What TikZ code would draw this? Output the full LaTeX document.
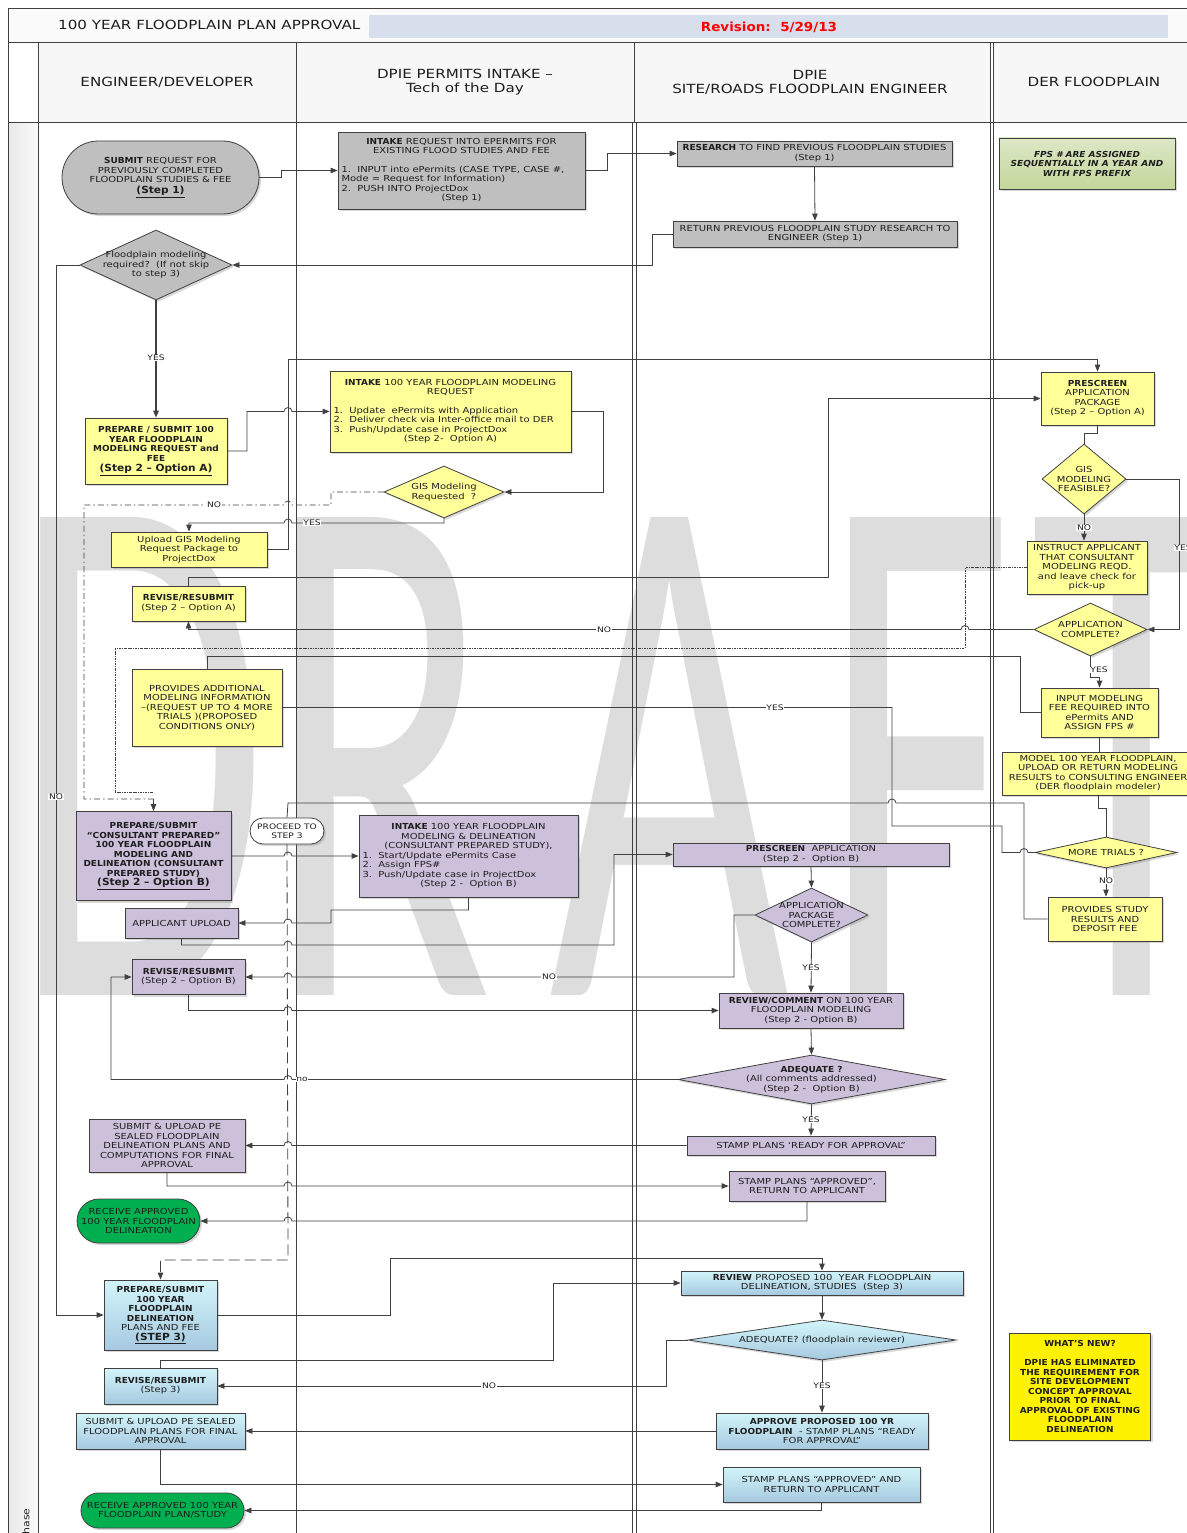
\documentclass[tikz,border=0pt]{standalone}
\usepackage{fontspec}
\setmainfont{DejaVu Sans}[FakeStretch=1.2, BoldFeatures={FakeStretch=1.08}, BoldItalicFeatures={FakeStretch=1.08}]
\newfontfamily\wmfont{Carlito}[FakeStretch=0.557]
\usetikzlibrary{shapes.geometric,shapes.misc,arrows.meta,shadows}
\definecolor{lc}{HTML}{404040}
\definecolor{gbox}{HTML}{BFBFBF}
\definecolor{ybox}{HTML}{FFFF99}
\definecolor{pbox}{HTML}{CCC0DA}
\definecolor{btop}{HTML}{D2F5FA}
\definecolor{bbot}{HTML}{A7C9E0}
\definecolor{grn}{HTML}{00B050}
\definecolor{ntop}{HTML}{DCE7C6}
\definecolor{nbot}{HTML}{C4D79B}
\definecolor{hdrblue}{HTML}{D6DFEB}
\definecolor{wmc}{HTML}{DDDDDD}
\definecolor{tx}{HTML}{1E1E1E}
\newcommand\fbx{\fontsize{8.3}{9.5}\selectfont}
\newcommand\flb{\fontsize{7.6}{8}\selectfont}
\newcommand\fhd{\fontsize{12.6}{14}\selectfont}
\newcommand\fst{\fontsize{9.8}{11}\selectfont}
\begin{document}
\begin{tikzpicture}[x=1pt,y=-1pt,
  box/.style={draw=lc, line width=0.8pt, align=center, inner sep=1pt, font=\fbx, text=tx,
    drop shadow={shadow xshift=2pt, shadow yshift=-2pt, opacity=0.3}},
  gb/.style={box, fill=gbox},
  yb/.style={box, fill=ybox},
  pb/.style={box, fill=pbox},
  bb/.style={box, top color=btop, bottom color=bbot},
  stad/.style={box, rounded rectangle},
  dia/.style={draw=lc, line width=0.8pt, shape=diamond, inner sep=0pt,
    drop shadow={shadow xshift=2pt, shadow yshift=-2pt, opacity=0.3}},
  dtext/.style={align=center, font=\fbx, text=tx, inner sep=0pt},
  conn/.style={draw=lc, line width=0.8pt},
  arr/.style={conn, -{Triangle[length=7pt,width=5.5pt]}},
  lbl/.style={font=\flb, text=tx, fill=white, inner sep=0.6pt},
  hdr/.style={font=\fhd, text=tx, align=center},
  lane/.style={draw=lc, line width=0.8pt},
  dashdot/.style={dash pattern=on 6pt off 3pt on 1.5pt off 3pt},
  dotdash/.style={dash pattern=on 2.5pt off 1pt on 0.8pt off 1pt},
  longdash/.style={dash pattern=on 11pt off 5pt}]
\useasboundingbox (0,0) rectangle (1186,1533);
\fill[white] (0,0) rectangle (1186,1533);
% ---------- header ----------
\fill[gray!4] (8,8) rectangle (1190,42);
\fill[hdrblue] (369,15) rectangle (1168,38);
\node[font=\fhd, text=tx, anchor=west, inner sep=0pt] (title) at (58,25) {100 YEAR FLOODPLAIN PLAN APPROVAL};
\node[font=\fontsize{12.5}{14}\selectfont\bfseries, text=red] (rev) at (769,27) {Revision:\ \ 5/29/13};
\foreach \a/\b in {38/296,296/634,634/990,993/1190} \fill[gray!6] (\a,42) rectangle (\b,122);
\shade[left color=gray!18, right color=gray!4] (8.5,122.5) rectangle (37.5,1533);
% ---------- watermark ----------
\begin{scope}[every node/.style={font=\wmfont\fontsize{745}{745}\selectfont, text=wmc, inner sep=0pt, anchor=base west}]
\node (wD) at (12,995) {D};
\node (wR) at (267,995) {R};
\node (wA) at (549,995) {A};
\node (wF) at (822,995) {F};
\node (wT) at (1030,995) {T};
\end{scope}
% ---------- frame / lanes ----------
\draw[lane] (8,8) -- (1190,8);
\draw[lane] (8,42) -- (1190,42);
\draw[lane] (8,122) -- (1190,122);
\draw[lane, line width=1pt] (8,8) -- (8,1533);
\draw[lane] (38,42) -- (38,1533);
\draw[lane] (296,42) -- (296,1533);
\draw[lane] (634,42) -- (634,122);
\draw[lane] (632,122) -- (632,1533);
\draw[lane] (636,122) -- (636,1533);
\draw[lane] (990,42) -- (990,1533);
\draw[lane] (993,42) -- (993,1533);
\node[hdr] (h1) at (167,82) {ENGINEER/DEVELOPER};
\node[hdr] (h2) at (465,82) {DPIE PERMITS INTAKE –\\Tech of the Day};
\node[hdr] (h3) at (810,82) {DPIE\\SITE/ROADS FLOODPLAIN ENGINEER};
\node[hdr] (h4) at (1094,82) {DER FLOODPLAIN};
\node[rotate=90, anchor=west, font=\fontsize{9}{9}\selectfont, text=tx, inner sep=0pt] (phase) at (26,1541) {Phase};
% ---------- nodes ----------
\node[stad, fill=gbox, minimum width=199pt, minimum height=73pt] (submit) at (160.5,177.5)
  {\textbf{SUBMIT} REQUEST FOR\\PREVIOUSLY COMPLETED\\FLOODPLAIN STUDIES \& FEE\\[1pt]{\fst\bfseries\underline{(Step 1)}}};
\node[gb, minimum width=247pt, minimum height=77pt] (intake1) at (461.5,170.5)
  {\textbf{INTAKE} REQUEST INTO EPERMITS FOR\\EXISTING FLOOD STUDIES AND FEE\\[9pt]
   \makebox[240pt][l]{1.\ \ INPUT into ePermits (CASE TYPE, CASE \#,}\\
   \makebox[240pt][l]{Mode = Request for Information)}\\
   \makebox[240pt][l]{2.\ \ PUSH INTO ProjectDox}\\(Step 1)};
\node[gb, minimum width=275pt, minimum height=25pt] (research) at (814.5,153.5)
  {\textbf{RESEARCH} TO FIND PREVIOUS FLOODPLAIN STUDIES\\(Step 1)};
\node[gb, minimum width=284pt, minimum height=26pt] (return) at (815,234)
  {RETURN PREVIOUS FLOODPLAIN STUDY RESEARCH TO\\ENGINEER (Step 1)};
\node[box, top color=ntop, bottom color=nbot, font=\fbx\bfseries\itshape, minimum width=176pt, minimum height=51pt] (fps) at (1087,163.5)
  {FPS \# ARE ASSIGNED\\SEQUENTIALLY IN A YEAR AND\\WITH FPS PREFIX};
\node[dia, fill=gbox, minimum width=152pt, minimum height=70pt] (dia1) at (156,265) {};
\node[dtext] (dia1t) at (dia1.center) {Floodplain modeling\\required?\ \ (If not skip\\to step 3)};
\node[yb, font=\fbx\bfseries, minimum width=142pt, minimum height=66pt] (prepA) at (156,451)
  {PREPARE / SUBMIT 100\\YEAR FLOODPLAIN\\MODELING REQUEST and\\FEE\\[1pt]{\fst\underline{(Step 2 – Option A)}}};
\node[yb, minimum width=241pt, minimum height=81pt] (intakeA) at (450.5,411.5)
  {\textbf{INTAKE} 100 YEAR FLOODPLAIN MODELING\\REQUEST\\[9pt]
   \makebox[234pt][l]{1.\ \ Update\ \ ePermits with Application}\\
   \makebox[234pt][l]{2.\ \ Deliver check via Inter-office mail to DER}\\
   \makebox[234pt][l]{3.\ \ Push/Update case in ProjectDox}\\(Step 2-\ \ Option A)};
\node[dia, fill=ybox, minimum width=120pt, minimum height=52pt] (gisReq) at (444,492) {};
\node[dtext] (gisReqt) at (gisReq.center) {GIS Modeling\\Requested\ \ ?};
\node[yb, minimum width=156pt, minimum height=35pt] (upload) at (189,549.5)
  {Upload GIS Modeling\\Request Package to\\ProjectDox};
\node[yb, minimum width=113pt, minimum height=53pt] (prescreenA) at (1097.5,398.5)
  {\textbf{PRESCREEN}\\APPLICATION\\PACKAGE\\(Step 2 – Option A)};
\node[dia, fill=ybox, minimum width=84pt, minimum height=70pt] (gisFeas) at (1084,479) {};
\node[dtext] (gisFeast) at (gisFeas.center) {GIS\\MODELING\\FEASIBLE?};
\node[yb, minimum width=120pt, minimum height=53pt] (instruct) at (1087,567.5)
  {INSTRUCT APPLICANT\\THAT CONSULTANT\\MODELING REQD.\\and leave check for\\pick-up};
\node[dia, fill=ybox, minimum width=113pt, minimum height=53pt] (appComplete) at (1090.5,629.5) {};
\node[dtext] (appCompletet) at (appComplete.center) {APPLICATION\\COMPLETE?};
\node[yb, minimum width=113pt, minimum height=35pt] (revA) at (188.5,603.5)
  {\textbf{REVISE/RESUBMIT}\\(Step 2 – Option A)};
\node[yb, minimum width=150pt, minimum height=77pt] (provides) at (207,707.5)
  {PROVIDES ADDITIONAL\\MODELING INFORMATION\\–(REQUEST UP TO 4 MORE\\TRIALS )(PROPOSED\\CONDITIONS ONLY)};
\node[yb, minimum width=117pt, minimum height=49pt] (inputFee) at (1099.5,712.5)
  {INPUT MODELING\\FEE REQUIRED INTO\\ePermits AND\\ASSIGN FPS \#};
\node[yb, minimum width=192pt, minimum height=43pt] (model) at (1098,773.5)
  {MODEL 100 YEAR FLOODPLAIN,\\UPLOAD OR RETURN MODELING\\RESULTS to CONSULTING ENGINEER\\(DER floodplain modeler)};
\node[dia, fill=ybox, minimum width=142pt, minimum height=31pt] (moreTrials) at (1106,852.5) {};
\node[dtext] (moreTrialst) at (moreTrials.center) {MORE TRIALS ?};
\node[yb, minimum width=114pt, minimum height=44pt] (provStudy) at (1105,919)
  {PROVIDES STUDY\\RESULTS AND\\DEPOSIT FEE};
\node[pb, font=\fbx\bfseries, minimum width=155pt, minimum height=89pt] (prepB) at (153.5,856)
  {PREPARE/SUBMIT\\“CONSULTANT PREPARED”\\100 YEAR FLOODPLAIN\\MODELING AND\\DELINEATION (CONSULTANT\\PREPARED STUDY)\\{\fst\underline{(Step 2 – Option B)}}};
\node[box, rounded rectangle, fill=white, font=\fontsize{7.6}{8.6}\selectfont, minimum width=76pt, minimum height=26pt] (proceed) at (287,831)
  {PROCEED TO\\STEP 3};
\node[pb, minimum width=219pt, minimum height=82pt] (intakeB) at (468.5,856)
  {\textbf{INTAKE} 100 YEAR FLOODPLAIN\\MODELING \& DELINEATION\\(CONSULTANT PREPARED STUDY),\\
   \makebox[212pt][l]{1.\ \ Start/Update ePermits Case}\\
   \makebox[212pt][l]{2.\ \ Assign FPS\#}\\
   \makebox[212pt][l]{3.\ \ Push/Update case in ProjectDox}\\(Step 2 -\ \ Option B)};
\node[pb, minimum width=113pt, minimum height=30pt] (appUpload) at (181.5,923) {APPLICANT UPLOAD};
\node[pb, minimum width=276pt, minimum height=23pt] (prescreenB) at (811,854.5)
  {\textbf{PRESCREEN}\ \ APPLICATION\\(Step 2 -\ \ Option B)};
\node[dia, fill=pbox, minimum width=113pt, minimum height=54pt] (appPkg) at (811.5,915) {};
\node[dtext] (appPkgt) at (appPkg.center) {APPLICATION\\PACKAGE\\COMPLETE?};
\node[pb, minimum width=113pt, minimum height=35pt] (revB) at (188.5,977)
  {\textbf{REVISE/RESUBMIT}\\(Step 2 – Option B)};
\node[pb, minimum width=184pt, minimum height=35pt] (review) at (811,1010.5)
  {\textbf{REVIEW/COMMENT} ON 100 YEAR\\FLOODPLAIN MODELING\\(Step 2 - Option B)};
\node[dia, fill=pbox, minimum width=267pt, minimum height=49pt] (adequate) at (811.5,1079.5) {};
\node[dtext] (adequatet) at (adequate.center) {\textbf{ADEQUATE ?}\\(All comments addressed)\\(Step 2 -\ \ Option B)};
\node[pb, minimum width=248pt, minimum height=19pt] (stampReady) at (811,1145.5) {STAMP PLANS ‘READY FOR APPROVAL”};
\node[pb, minimum width=156pt, minimum height=53pt] (submitPE) at (167,1145.5)
  {SUBMIT \& UPLOAD PE\\SEALED FLOODPLAIN\\DELINEATION PLANS AND\\COMPUTATIONS FOR FINAL\\APPROVAL};
\node[pb, minimum width=156pt, minimum height=30pt] (stampApproved) at (807,1186)
  {STAMP PLANS “APPROVED”,\\RETURN TO APPLICANT};
\node[stad, fill=grn, minimum width=125pt, minimum height=44pt] (receive1) at (138.5,1221)
  {RECEIVE APPROVED\\100 YEAR FLOODPLAIN\\DELINEATION};
\node[bb, minimum width=113pt, minimum height=70pt] (step3) at (160.5,1315)
  {\textbf{PREPARE/SUBMIT}\\\textbf{100 YEAR}\\\textbf{FLOODPLAIN}\\\textbf{DELINEATION}\\PLANS AND FEE\\{\fst\bfseries\underline{(STEP 3)}}};
\node[bb, minimum width=282pt, minimum height=24pt] (reviewP) at (822,1283)
  {\textbf{REVIEW} PROPOSED 100\ \ YEAR FLOODPLAIN\\DELINEATION, STUDIES\ \ (Step 3)};
\node[dia, top color=btop, bottom color=bbot, minimum width=268pt, minimum height=40pt] (adequateP) at (822,1340) {};
\node[dtext] (adequatePt) at (adequateP.center) {ADEQUATE? (floodplain reviewer)};
\node[bb, minimum width=113pt, minimum height=36pt] (revS3) at (160.5,1386)
  {\textbf{REVISE/RESUBMIT}\\(Step 3)};
\node[bb, minimum width=212pt, minimum height=36pt] (approveP) at (822,1431)
  {\textbf{APPROVE PROPOSED 100 YR}\\\textbf{FLOODPLAIN}\ \ - STAMP PLANS “READY\\FOR APPROVAL”};
\node[bb, minimum width=169pt, minimum height=36pt] (submitS3) at (160.5,1431)
  {SUBMIT \& UPLOAD PE SEALED\\FLOODPLAIN PLANS FOR FINAL\\APPROVAL};
\node[bb, minimum width=197pt, minimum height=35pt] (stampP) at (821.5,1484.5)
  {STAMP PLANS “APPROVED” AND\\RETURN TO APPLICANT};
\node[stad, fill=grn, minimum width=165pt, minimum height=35pt] (receive2) at (162.5,1510.5)
  {RECEIVE APPROVED 100 YEAR\\FLOODPLAIN PLAN/STUDY};
\node[box, fill=yellow, font=\fbx\bfseries, minimum width=141pt, minimum height=107pt] (whatsNew) at (1080,1386.5)
  {WHAT'S NEW?\\[9.5pt]DPIE HAS ELIMINATED\\THE REQUIREMENT FOR\\SITE DEVELOPMENT\\CONCEPT APPROVAL\\PRIOR TO FINAL\\APPROVAL OF EXISTING\\FLOODPLAIN\\DELINEATION};
% ---------- connectors ----------
\draw[arr] (submit.east) -- (281,177.5) -- (281,170.5) -- (intake1.west);
\draw[arr] (intake1.east) -- (607,170.5) |- (research.west);
\draw[arr] (research.south) -- (return.north);
\draw[arr] (return.west) -| (652,265) -- (dia1.east);
\draw[arr] (dia1.west) -- (56,265) |- (step3.west);
\draw[arr, line width=1.6pt] (dia1.south) -- (prepA.north);
\draw[arr] (prepA.east) -- (247,451) -- (247,411.5) -- (284,411.5) arc[start angle=180,end angle=360,radius=4] -- (intakeA.west);
\draw[arr] (intakeA.east) -- (603,411.5) |- (gisReq.east);
\draw[conn, dashdot] (gisReq.west) -- (331,492) -- (331,505) -- (292,505) arc[start angle=0,end angle=-180,radius=4] -- (84,505) -- (84,799) -- (153.5,799);
\draw[conn, dotdash] (instruct.west) -- (965,567.5) -- (965,648) -- (115,648) -- (115,792) -- (153.5,792);
\draw[arr] (153.5,799) -- (prepB.north);
\draw[arr] (gisReq.south) -- (444,523) -- (292,523) arc[start angle=0,end angle=-180,radius=4] -- (189,523) -- (upload.north);
\draw[arr] (upload.east) -- (288,549.5) -- (288,359) -- (1097.5,359) -- (prescreenA.north);
\draw[conn] (prescreenA.south) -- (1097.5,433) -- (1084,433) -- (gisFeas.north);
\draw[arr] (gisFeas.south) -- (gisFeas.south |- instruct.north);
\draw[arr] (gisFeas.east) -- (1179,479) |- (appComplete.east);
\draw[arr] (appComplete.west) -- (969,629.5) arc[start angle=0,end angle=-180,radius=4] -- (188.5,629.5) -- (revA.south);
\draw[arr] (revA.north) -- (188.5,577) -- (828,577) |- (prescreenA.west);
\draw[conn] (provides.north) -- (207,656) -- (1020,656) |- (inputFee.west);
\draw[arr] (appComplete.south) -- (1090.5,677) -- (1099.5,677) -- (inputFee.north);
\draw[conn] (inputFee.south) -- (inputFee.south |- model.north);
\draw[conn] (model.south) -- (1098,808) -- (1106,808) -- (moreTrials.north);
\draw[arr] (moreTrials.south) -- (moreTrials.south |- provStudy.north);
\draw[conn] (moreTrials.west) -- (1028,852.5) arc[start angle=0,end angle=-180,radius=4] -- (1002,852.5) -- (1002,826) -- (892,826) -- (892,707.5) -- (provides.east);
\draw[conn] (provStudy.west) -- (1024,919) -- (1024,803) -- (896,803) arc[start angle=0,end angle=-180,radius=4] -- (288,803) -- (proceed.north);
\draw[arr, longdash] (proceed.south) -- (288,1260) -- (160.5,1260) -- (step3.north);
\draw[arr] (prepB.east) -- (284,856) arc[start angle=180,end angle=360,radius=4] -- (intakeB.west);
\draw[arr] (intakeB.south) -- (468.5,910) -- (331,910) -- (331,923) -- (292,923) arc[start angle=0,end angle=-180,radius=4] -- (appUpload.east);
\draw[arr] (appUpload.south) -- (181.5,945) -- (284,945) arc[start angle=180,end angle=360,radius=4] -- (614,945) -- (614,854.5) -- (prescreenB.west);
\draw[arr] (prescreenB.south) -- (appPkg.north);
\draw[arr] (appPkg.west) -- (734,915) -- (734,977) -- (292,977) arc[start angle=0,end angle=-180,radius=4] -- (revB.east);
\draw[arr] (appPkg.south) -- (review.north);
\draw[arr] (revB.south) -- (188.5,1010.5) -- (284,1010.5) arc[start angle=180,end angle=360,radius=4] -- (review.west);
\draw[arr] (review.south) -- (adequate.north);
\draw[arr] (adequate.west) -- (292,1079.5) arc[start angle=0,end angle=-180,radius=4] -- (111,1079.5) -- (111,977) -- (revB.west);
\draw[arr] (adequate.south) -- (stampReady.north);
\draw[arr] (stampReady.west) -- (292,1145.5) arc[start angle=0,end angle=-180,radius=4] -- (submitPE.east);
\draw[arr] (submitPE.south) -- (167,1186) -- (284,1186) arc[start angle=180,end angle=360,radius=4] -- (stampApproved.west);
\draw[arr] (stampApproved.south) -- (807,1221) -- (292,1221) arc[start angle=0,end angle=-180,radius=4] -- (receive1.east);
\draw[arr] (step3.east) -- (390,1315) -- (390,1258) -- (822,1258) -- (reviewP.north);
\draw[arr] (reviewP.south) -- (adequateP.north);
\draw[arr] (adequateP.west) -- (666,1340) -- (666,1386) -- (revS3.east);
\draw[arr] (adequateP.south) -- (approveP.north);
\draw[arr] (revS3.north) -- (160.5,1360) -- (553,1360) -- (553,1283) -- (reviewP.west);
\draw[arr] (approveP.west) -- (submitS3.east);
\draw[arr] (submitS3.south) -- (160.5,1484.5) -- (stampP.west);
\draw[arr] (stampP.south) -- (821.5,1510.5) -- (receive2.east);
% ---------- labels ----------
\node[lbl] (l1) at (56,797) {NO};
\node[lbl] (l2) at (156,358) {YES};
\node[lbl] (l3) at (214,505) {NO};
\node[lbl] (l4) at (312,523) {YES};
\node[lbl] (l5) at (1084,528) {NO};
\node[lbl] (l6) at (1183,548) {YES};
\node[lbl] (l7) at (604,629.5) {NO};
\node[lbl] (l8) at (1099,670) {YES};
\node[lbl] (l9) at (775,707.5) {YES};
\node[lbl] (l10) at (1106,881) {NO};
\node[lbl] (l11) at (549,977) {NO};
\node[lbl] (l12) at (811,968) {YES};
\node[lbl] (l13) at (302,1079.5) {no};
\node[lbl] (l14) at (811,1120) {YES};
\node[lbl] (l15) at (489,1386) {NO};
\node[lbl] (l16) at (822,1386) {YES};
\end{tikzpicture}
\end{document}
